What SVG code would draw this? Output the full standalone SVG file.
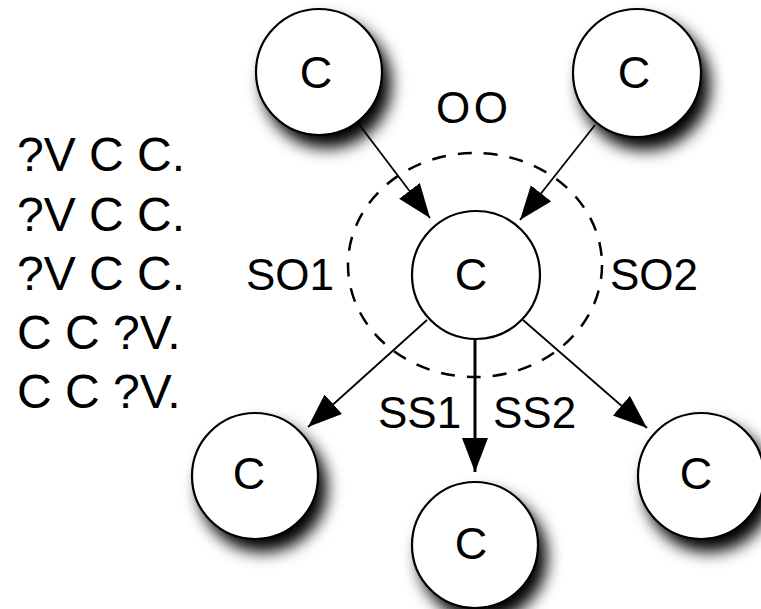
<svg xmlns="http://www.w3.org/2000/svg" width="761" height="609" viewBox="0 0 761 609">
<style>
  .node circle { fill: #fff; stroke: #000; stroke-width: 2.2; filter: url(#shadow); }
  text { font-family: "Liberation Sans", Arial, sans-serif; fill: #000; }
  .nl { font-size: 45px; text-anchor: middle; }
  .lbl { font-size: 44px; }
  .side { font-size: 48px; }
  .edge { stroke: #000; stroke-width: 1.8; fill: none; marker-end: url(#arrow); }
  .edge.thick { stroke-width: 3; }
  .group { fill: none; stroke: #000; stroke-width: 2.5; stroke-dasharray: 14 12; }
</style>
<defs>
  <filter id="shadow" x="-40%" y="-40%" width="190%" height="190%">
    <feGaussianBlur in="SourceAlpha" stdDeviation="8"/>
    <feOffset dx="8" dy="12" result="b"/>
    <feComponentTransfer in="b" result="s"><feFuncA type="linear" slope="1"/></feComponentTransfer>
    <feMerge><feMergeNode in="s"/><feMergeNode in="SourceGraphic"/></feMerge>
  </filter>
  <marker id="arrow" markerUnits="userSpaceOnUse" markerWidth="36" markerHeight="28" refX="34" refY="13" orient="auto">
    <path d="M0,0 L34,13 L0,26 Z" fill="#000"/>
  </marker>
</defs>
<rect width="761" height="609" fill="#fff"/>

<g id="side-text" class="side">
  <text x="17" y="171">?V C C.</text>
  <text x="17" y="231">?V C C.</text>
  <text x="17" y="290">?V C C.</text>
  <text x="17" y="349">C C ?V.</text>
  <text x="17" y="408">C C ?V.</text>
</g>

<ellipse id="group-OO" class="group" cx="475" cy="265" rx="127" ry="112"/>

<g id="edges">
  <line class="edge" x1="358" y1="123" x2="430" y2="218"/>
  <line class="edge" x1="595" y1="125" x2="520" y2="220"/>
  <line class="edge" x1="427" y1="320" x2="308" y2="427"/>
  <line class="edge" x1="523" y1="320" x2="647" y2="428"/>
  <line class="edge thick" x1="475" y1="339" x2="475" y2="472"/>
</g>

<g id="node-top-left" class="node"><circle cx="319" cy="72" r="63"/><text class="nl" x="316" y="88">C</text></g>
<g id="node-top-right" class="node"><circle cx="637" cy="73" r="64"/><text class="nl" x="634" y="88">C</text></g>
<g id="node-center" class="node"><circle cx="476" cy="275" r="64" style="filter:none"/><text class="nl" x="471" y="290">C</text></g>
<g id="node-bottom-left" class="node"><circle cx="255" cy="476" r="63"/><text class="nl" x="249" y="489">C</text></g>
<g id="node-bottom-middle" class="node"><circle cx="475" cy="545" r="63"/><text class="nl" x="471" y="559">C</text></g>
<g id="node-bottom-right" class="node"><circle cx="701" cy="476" r="63"/><text class="nl" x="696" y="489">C</text></g>

<g id="labels" class="lbl">
  <text x="436" y="123" textLength="72">OO</text>
  <text x="246" y="290">SO1</text>
  <text x="610" y="290">SO2</text>
  <text x="378" y="428">SS1</text>
  <text x="493" y="428">SS2</text>
</g>
</svg>
